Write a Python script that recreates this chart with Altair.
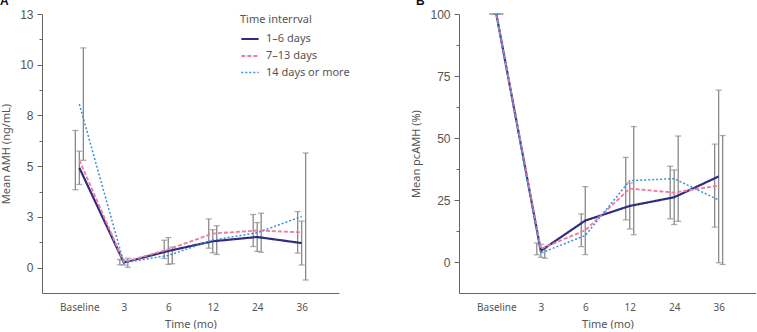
import altair as alt
import pandas as pd

# Follow-up visits and the three groups of time interval
times = ["Baseline", "3", "6", "12", "24", "36"]
groups = ["1–6 days", "7–13 days", "14 days or more"]

# Mean AMH (ng/mL) and error half-widths per group
amh_1_6 = [4.92, 0.25, 0.82, 1.30, 1.51, 1.21]
amh_1_6_err = [0.82, 0.12, 0.66, 0.57, 0.71, 1.08]
amh_7_13 = [5.30, 0.27, 0.90, 1.68, 1.83, 1.74]
amh_7_13_err = [1.46, 0.13, 0.45, 0.72, 0.79, 1.02]
amh_14 = [8.06, 0.24, 0.60, 1.36, 1.72, 2.52]
amh_14_err = [2.77, 0.22, 0.41, 0.71, 0.96, 3.13]

# Mean percent change of AMH (%) and error half-widths per group
pc_1_6 = [100, 4.5, 16.7, 22.6, 26.1, 34.5]
pc_1_6_err = [0, 2.6, 13.7, 9.3, 11.0, 34.8]
pc_7_13 = [100, 5.3, 12.8, 29.6, 28.0, 30.8]
pc_7_13_err = [0, 2.4, 6.6, 12.6, 10.6, 16.7]
pc_14 = [100, 3.6, 10.7, 32.8, 33.6, 25.0]
pc_14_err = [0, 2.1, None, 21.8, 17.2, 26.0]

colors = ["#2e2d7f", "#f07ba2", "#3b8fd4"]
dashes = [[1, 0], [4, 2], [2, 2]]
widths = [2.2, 1.5, 1.6]
dodge = {"1–6 days": 0, "7–13 days": -4, "14 days or more": 4}
ERR = "#8a8a8a"
TXT = "#555555"


def long_table(means, errs):
    rows = []
    for g, m_list, e_list in zip(groups, means, errs):
        for i, (t, m, e) in enumerate(zip(times, m_list, e_list)):
            rows.append({
                "time": t, "idx": i, "group": g, "mean": m,
                "lo": None if e is None else m - e,
                "hi": None if e is None else m + e,
            })
    return pd.DataFrame(rows)


amh_df = long_table([amh_1_6, amh_7_13, amh_14], [amh_1_6_err, amh_7_13_err, amh_14_err])
pc_df = long_table([pc_1_6, pc_7_13, pc_14], [pc_1_6_err, pc_7_13_err, pc_14_err])


def panel(df, letter, letter_dx, y_title, y_domain, step):
    n = int(round((y_domain[1] - 0) / step))
    tick_vals = [step * k / 2 for k in range(0, 2 * n + 1)]
    x_enc = alt.X(
        "time:O", sort=times,
        scale=alt.Scale(type="point", padding=0.84),
        axis=alt.Axis(title="Time (mo)", labelAngle=0, ticks=False,
                      labelPadding=9, titlePadding=6, domainColor="#666666"),
    )
    y_scale = alt.Scale(domain=y_domain, nice=False, zero=False)
    y_axis = alt.Axis(
        title=y_title, values=tick_vals, grid=False,
        labelExpr=f"datum.value % {step} == 0 ? format(round(datum.value), 'd') : ''",
        tickSize={"condition": {"test": f"datum.value % {step} != 0", "value": 3}, "value": 5},
        labelPadding=4, titlePadding=8, domainColor="#666666", tickColor="#666666",
    )

    def y_enc(field):
        return alt.Y(f"{field}:Q", scale=y_scale, axis=y_axis, title=y_title)

    base = alt.Chart(df)
    layers = []
    for g in groups:
        sub = base.transform_filter(alt.datum.group == g).transform_filter("isValid(datum.lo)")
        off = dodge[g]
        layers.append(sub.mark_rule(color=ERR, strokeWidth=1.3, xOffset=off).encode(
            x=x_enc, y=y_enc("lo"), y2="hi:Q"))
        layers.append(sub.mark_tick(color=ERR, size=6, thickness=1.3, xOffset=off).encode(
            x=x_enc, y=y_enc("lo")))
        layers.append(sub.mark_tick(color=ERR, size=6, thickness=1.3, xOffset=off).encode(
            x=x_enc, y=y_enc("hi")))

    legend = alt.Legend(
        title="Time interrval", orient="none", legendX=198, legendY=0,
        symbolType="stroke", symbolSize=300, symbolStrokeWidth=1.8,
        labelOffset=6, rowPadding=2, titlePadding=4,
    )
    lines = base.mark_line().encode(
        x=x_enc, y=y_enc("mean"),
        color=alt.Color("group:N", scale=alt.Scale(domain=groups, range=colors), legend=legend),
        strokeDash=alt.StrokeDash("group:N", scale=alt.Scale(domain=groups, range=dashes), legend=legend),
        strokeWidth=alt.StrokeWidth("group:N", scale=alt.Scale(domain=groups, range=widths), legend=legend),
        order=alt.Order("idx:Q"),
    )
    layers.append(lines)
    return alt.layer(*layers).properties(
        width=297, height=279,
        title=alt.TitleParams(letter, anchor="start", frame="group", dx=letter_dx,
                              fontSize=12, fontWeight="bold", color="#111111",
                              font="Liberation Sans", offset=0),
    )


left = panel(amh_df, "A", -42, "Mean AMH (ng/mL)", [-1.25, 12.5], 2.5)
right = panel(pc_df, "B", -43, "Mean pcAMH (%)", [-12.5, 100], 25)

chart = alt.hconcat(left, right, spacing=71).properties(
    padding={"left": 0, "top": -5, "right": 0, "bottom": 0}
).configure_view(stroke=None).configure_axis(
    labelColor=TXT, titleColor=TXT, titleFont="Noto Sans", titleFontSize=11,
    titleFontWeight="normal", labelFont="Noto Sans",
).configure_axisY(
    labelFont="Liberation Sans", labelFontSize=12,
).configure_axisX(
    labelFontSize=10,
).configure_legend(
    titleFont="Noto Sans", titleFontSize=11, titleFontWeight="normal", titleColor=TXT,
    labelFont="Noto Sans", labelFontSize=11, labelColor=TXT,
)

chart.save("out.html", embed_options={"renderer": "svg", "actions": False})
